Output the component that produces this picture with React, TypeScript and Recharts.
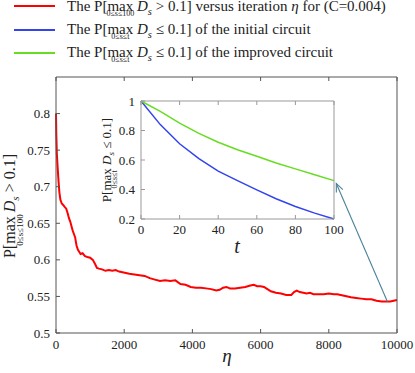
import { LineChart, Line, XAxis, YAxis, ReferenceLine } from 'recharts';

// main curve: P[max D_s > 0.1] vs iteration eta
const eta = [0, 10, 25, 50, 75, 100, 130, 170, 210, 260, 300, 340, 380, 420, 460, 490, 520, 560, 600, 640, 680, 720, 780, 850, 920, 1000, 1080, 1150, 1200, 1260, 1350, 1450, 1550, 1650, 1750, 1850, 1950, 2050, 2150, 2300, 2450, 2600, 2750, 2900, 3050, 3200, 3350, 3500, 3650, 3800, 3950, 4100, 4250, 4400, 4550, 4700, 4800, 4900, 5000, 5100, 5250, 5400, 5550, 5700, 5800, 5900, 6000, 6100, 6200, 6300, 6450, 6600, 6750, 6900, 6980, 7060, 7150, 7250, 7350, 7450, 7550, 7700, 7850, 8000, 8150, 8250, 8350, 8450, 8550, 8650, 8800, 8950, 9100, 9250, 9400, 9550, 9700, 9800, 9900, 10000];
const pExceed = [0.8, 0.77, 0.745, 0.725, 0.707, 0.692, 0.682, 0.677, 0.675, 0.672, 0.67, 0.664, 0.657, 0.652, 0.645, 0.64, 0.636, 0.631, 0.62, 0.614, 0.611, 0.608, 0.609, 0.605, 0.604, 0.603, 0.6, 0.594, 0.589, 0.588, 0.587, 0.585, 0.586, 0.585, 0.586, 0.584, 0.583, 0.582, 0.581, 0.58, 0.579, 0.578, 0.575, 0.573, 0.571, 0.572, 0.571, 0.572, 0.567, 0.566, 0.563, 0.562, 0.562, 0.561, 0.56, 0.558, 0.559, 0.562, 0.563, 0.561, 0.561, 0.562, 0.563, 0.565, 0.566, 0.564, 0.564, 0.563, 0.56, 0.557, 0.555, 0.554, 0.552, 0.552, 0.556, 0.558, 0.556, 0.555, 0.554, 0.555, 0.553, 0.553, 0.553, 0.554, 0.553, 0.553, 0.552, 0.551, 0.55, 0.549, 0.548, 0.547, 0.546, 0.546, 0.544, 0.543, 0.543, 0.543, 0.544, 0.545];

// inset: P[max D_s <= 0.1] vs t
const tValues = [0, 10, 20, 30, 40, 50, 60, 70, 80, 90, 100];
const initialCircuit = [1, 0.84, 0.71, 0.61, 0.525, 0.46, 0.397, 0.337, 0.285, 0.24, 0.2];
const improvedCircuit = [1, 0.93, 0.85, 0.78, 0.72, 0.67, 0.625, 0.58, 0.54, 0.5, 0.46];

const etaTicks = [0, 2000, 4000, 6000, 8000, 10000];
const pTicks = [0.5, 0.55, 0.6, 0.65, 0.7, 0.75, 0.8];
const tTicks = [0, 20, 40, 60, 80, 100];
const insetTicks = [0.2, 0.4, 0.6, 0.8, 1];

const mainData = eta.map((e, i) => ({ eta: e, p: pExceed[i] }));
const insetData = tValues.map((t, i) => ({ t, initial: initialCircuit[i], improved: improvedCircuit[i] }));

const FONT = '"Liberation Serif", "Times New Roman", serif';
const AXIS = '#555';
const INSET_AXIS = '#999';
const RED = '#ff0000';
const BLUE = '#3344ee';
const GREEN = '#66dd22';

const tickText = { fontFamily: FONT, fontSize: 13, fill: '#222' };

const makeTick = (side: string, color: string, labelGap: number | null) => (props: any) => {
  const { x, y, payload } = props;
  const len = 4;
  let line;
  let label = null;
  if (side === 'bottom') {
    line = <line x1={x} y1={y} x2={x} y2={y - len} stroke={color} />;
    if (labelGap !== null)
      label = <text x={x} y={y + labelGap} textAnchor="middle" style={tickText}>{payload.value}</text>;
  } else if (side === 'top') {
    line = <line x1={x} y1={y} x2={x} y2={y + len} stroke={color} />;
  } else if (side === 'left') {
    line = <line x1={x} y1={y} x2={x + len} y2={y} stroke={color} />;
    if (labelGap !== null)
      label = <text x={x - labelGap} y={y} dy="0.35em" textAnchor="end" style={tickText}>{payload.value}</text>;
  } else {
    line = <line x1={x} y1={y} x2={x - len} y2={y} stroke={color} />;
  }
  return <g>{line}{label}</g>;
};

const Arrow = (props: any) => {
  const { x1, y1, x2, y2 } = props;
  const ang = Math.atan2(y2 - y1, x2 - x1);
  const h = 9;
  const a1 = ang + Math.PI - 0.4;
  const a2 = ang + Math.PI + 0.4;
  return (
    <g stroke="#4a8299" strokeWidth={1.1} fill="none">
      <line x1={x1} y1={y1} x2={x2} y2={y2} />
      <polyline points={`${x2 + h * Math.cos(a1)},${y2 + h * Math.sin(a1)} ${x2},${y2} ${x2 + h * Math.cos(a2)},${y2 + h * Math.sin(a2)}`} />
    </g>
  );
};

const MaxSub = ({ sub, size }: { sub: string; size: number }) => (
  <span style={{ position: 'relative', display: 'inline-block' }}>
    max
    <span style={{ position: 'absolute', left: '50%', top: 'calc(100% - 2px)', transform: 'translateX(-50%)', fontSize: size, whiteSpace: 'nowrap', lineHeight: 1 }}>{sub}</span>
  </span>
);

const Ds = () => (
  <>
    <i>D</i>
    <sub style={{ fontSize: '0.7em', fontStyle: 'italic', lineHeight: 0 }}>s</sub>
  </>
);

const LegendRow = ({ top, lineY, color, children }: any) => (
  <>
    <div style={{ position: 'absolute', left: 14, top: lineY - 1, width: 41, height: 2, background: color }} />
    <div style={{ position: 'absolute', left: 67, top, lineHeight: '12px', fontSize: 15, whiteSpace: 'nowrap' }}>{children}</div>
  </>
);

export default function App() {
  return (
    <div style={{ position: 'absolute', left: 0, top: 0, width: 415, height: 373, background: '#fff', fontFamily: FONT, color: '#222' }}>
      <LineChart width={415} height={373} data={mainData} margin={{ top: 76, right: 17, bottom: 15, left: 10 }}>
        <XAxis dataKey="eta" type="number" domain={[0, 10000]} ticks={etaTicks} tickSize={0} tickMargin={0} tickLine={false} axisLine={{ stroke: AXIS }} height={25} tick={makeTick('bottom', AXIS, 16)} interval={0} />
        <XAxis xAxisId="top" orientation="top" dataKey="eta" type="number" domain={[0, 10000]} ticks={etaTicks} tickSize={0} tickMargin={0} tickLine={false} axisLine={{ stroke: AXIS }} height={1} tick={makeTick('top', AXIS, null)} interval={0} />
        <YAxis type="number" domain={[0.5, 0.85]} ticks={pTicks} allowDataOverflow tickSize={0} tickMargin={0} tickLine={false} axisLine={{ stroke: AXIS }} width={46} tick={makeTick('left', AXIS, 6)} interval={0} />
        <YAxis yAxisId="right" orientation="right" type="number" domain={[0.5, 0.85]} ticks={pTicks} tickSize={0} tickMargin={0} tickLine={false} axisLine={{ stroke: AXIS }} width={1} tick={makeTick('right', AXIS, null)} interval={0} />
        <Line dataKey="p" stroke={RED} strokeWidth={2} dot={false} type="linear" isAnimationActive={false} />
        <ReferenceLine segment={[{ x: 9720, y: 0.5427 }, { x: 8220, y: 0.7045 }]} shape={<Arrow />} />
      </LineChart>

      <div style={{ position: 'absolute', left: 100, top: 90 }}>
        <LineChart width={245} height={170} data={insetData} margin={{ top: 10, right: 10, bottom: 21, left: 0 }}>
          <XAxis dataKey="t" type="number" domain={[0, 100]} ticks={tTicks} tickSize={0} tickMargin={0} tickLine={false} axisLine={{ stroke: INSET_AXIS }} height={20} tick={makeTick('bottom', INSET_AXIS, 15)} interval={0} />
          <XAxis xAxisId="top" orientation="top" dataKey="t" type="number" domain={[0, 100]} ticks={tTicks} tickSize={0} tickMargin={0} tickLine={false} axisLine={{ stroke: INSET_AXIS }} height={1} tick={makeTick('top', INSET_AXIS, null)} interval={0} />
          <YAxis type="number" domain={[0.2, 1]} ticks={insetTicks} tickSize={0} tickMargin={0} tickLine={false} axisLine={{ stroke: INSET_AXIS }} width={41} tick={makeTick('left', INSET_AXIS, 6)} interval={0} />
          <YAxis yAxisId="right" orientation="right" type="number" domain={[0.2, 1]} ticks={insetTicks} tickSize={0} tickMargin={0} tickLine={false} axisLine={{ stroke: INSET_AXIS }} width={1} tick={makeTick('right', INSET_AXIS, null)} interval={0} />
          <Line dataKey="initial" stroke={BLUE} strokeWidth={1.5} dot={false} type="linear" isAnimationActive={false} />
          <Line dataKey="improved" stroke={GREEN} strokeWidth={1.5} dot={false} type="linear" isAnimationActive={false} />
        </LineChart>
      </div>

      <LegendRow top={0} lineY={6} color={RED}>
        The P[<MaxSub sub="0≤s≤100" size={8} /> <Ds /> &gt; 0.1] versus iteration <i>η</i> for (C=0.004)
      </LegendRow>
      <LegendRow top={23} lineY={30} color={BLUE}>
        The P[<MaxSub sub="0≤s≤t" size={8} /> <Ds /> ≤ 0.1] of the initial circuit
      </LegendRow>
      <LegendRow top={46} lineY={53} color={GREEN}>
        The P[<MaxSub sub="0≤s≤t" size={8} /> <Ds /> ≤ 0.1] of the improved circuit
      </LegendRow>

      <div style={{ position: 'absolute', left: 10, top: 206, transform: 'translate(-50%, -50%) rotate(-90deg)', fontSize: 16, lineHeight: 1, whiteSpace: 'nowrap' }}>
        P[<MaxSub sub="0≤s≤100" size={9} /> <Ds /> &gt; 0.1]
      </div>
      <div style={{ position: 'absolute', left: 106, top: 160, transform: 'translate(-50%, -50%) rotate(-90deg)', fontSize: 13, lineHeight: 1, whiteSpace: 'nowrap' }}>
        P[<MaxSub sub="0≤s≤t" size={8} /> <Ds /> ≤ 0.1]
      </div>

      <div style={{ position: 'absolute', left: 227, top: 355, transform: 'translate(-50%, -50%)', fontSize: 19, fontStyle: 'italic', lineHeight: 1 }}>η</div>
      <div style={{ position: 'absolute', left: 237, top: 246, transform: 'translate(-50%, -50%)', fontSize: 20, fontStyle: 'italic', lineHeight: 1 }}>t</div>
    </div>
  );
}
